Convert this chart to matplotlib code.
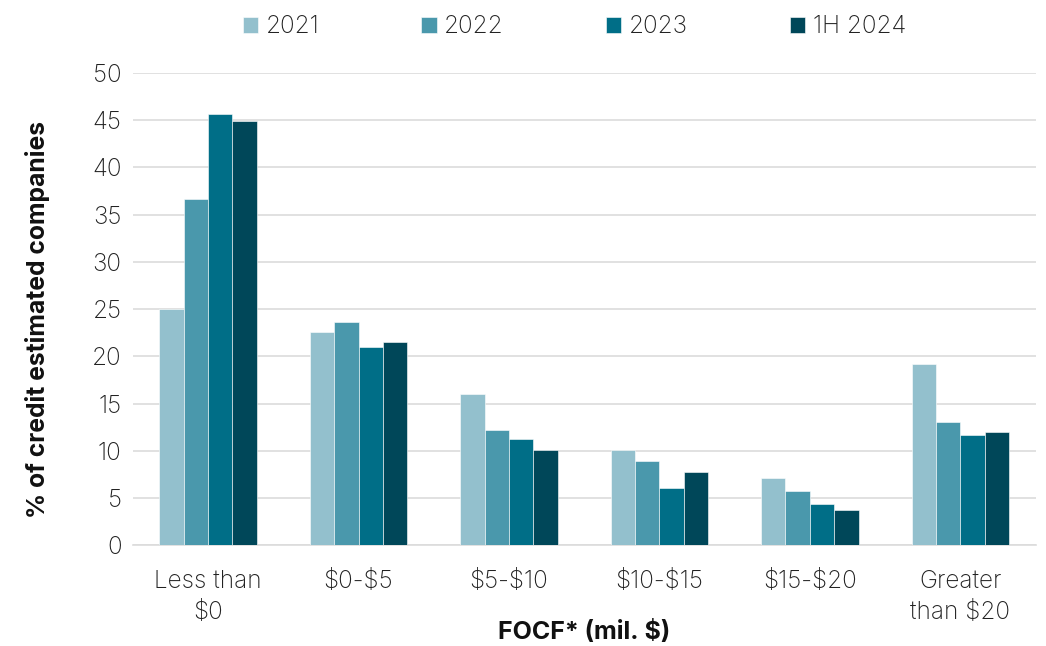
import matplotlib
matplotlib.use("Agg")
import matplotlib.pyplot as plt
import numpy as np

plt.rcParams['font.family'] = ['Inter', 'DejaVu Sans']

categories = ["Less than\n\\$0", "\\$0-\\$5", "\\$5-\\$10", "\\$10-\\$15", "\\$15-\\$20", "Greater\nthan \\$20"]
series_names = ["2021", "2022", "2023", "1H 2024"]
v2021 = [25.0, 22.6, 16.0, 10.1, 7.1, 19.2]
v2022 = [36.7, 23.6, 12.2, 8.9, 5.7, 13.0]
v2023 = [45.7, 21.0, 11.2, 6.1, 4.4, 11.7]
v1h2024 = [44.9, 21.5, 10.1, 7.8, 3.7, 12.0]
colors = ["#93c0cd", "#4a98ac", "#006e87", "#004759"]
y_ticks = [0, 5, 10, 15, 20, 25, 30, 35, 40, 45, 50]

fig = plt.figure(figsize=(10.46, 6.46), dpi=100)
ax = fig.add_axes([0.127, 0.156, 0.863, 0.731])

x = np.arange(len(categories))
width = 0.162
all_series = [v2021, v2022, v2023, v1h2024]
for i, (vals, name, c) in enumerate(zip(all_series, series_names, colors)):
    ax.bar(x + (i - 1.5) * width, vals, width, color=c, label=name,
           edgecolor="#ffffff", linewidth=0.4, zorder=3)

ax.set_ylim(0, 50)
ax.set_xlim(-0.5, len(categories) - 0.5)
ax.set_yticks(y_ticks)
ax.set_xticks(x)
ax.set_xticklabels(categories, fontsize=17.5, color="#222222", fontweight="light",
                   linespacing=1.45)
ax.tick_params(axis="y", labelsize=17.5, labelcolor="#222222", length=0, pad=8)
ax.tick_params(axis="x", length=0, pad=18)
for lab in ax.get_yticklabels():
    lab.set_fontweight("light")

ax.grid(axis="y", color="#dcdcdc", linewidth=1.2, zorder=0)
for s in ["top", "right", "left"]:
    ax.spines[s].set_visible(False)
ax.spines["bottom"].set_color("#dcdcdc")
ax.spines["bottom"].set_linewidth(1.2)

ax.set_ylabel("% of credit estimated companies", fontsize=17.8, fontweight="bold",
              color="#111111", va="center")
ax.yaxis.set_label_coords(-0.106, 0.479)
ax.set_xlabel("FOCF* (mil. \\$)", fontsize=18, fontweight="bold", color="#111111",
              va="center")
ax.xaxis.set_label_coords(0.5, -0.184)

leg = fig.legend(loc="upper center", bbox_to_anchor=(0.549, 1.01), ncol=4,
                 frameon=False, fontsize=17.5, handlelength=0.64, handleheight=0.64,
                 handletextpad=0.3, columnspacing=4.2)
for t in leg.get_texts():
    t.set_fontweight("light")
    t.set_color("#222222")

fig.savefig("out.png", dpi=100)
